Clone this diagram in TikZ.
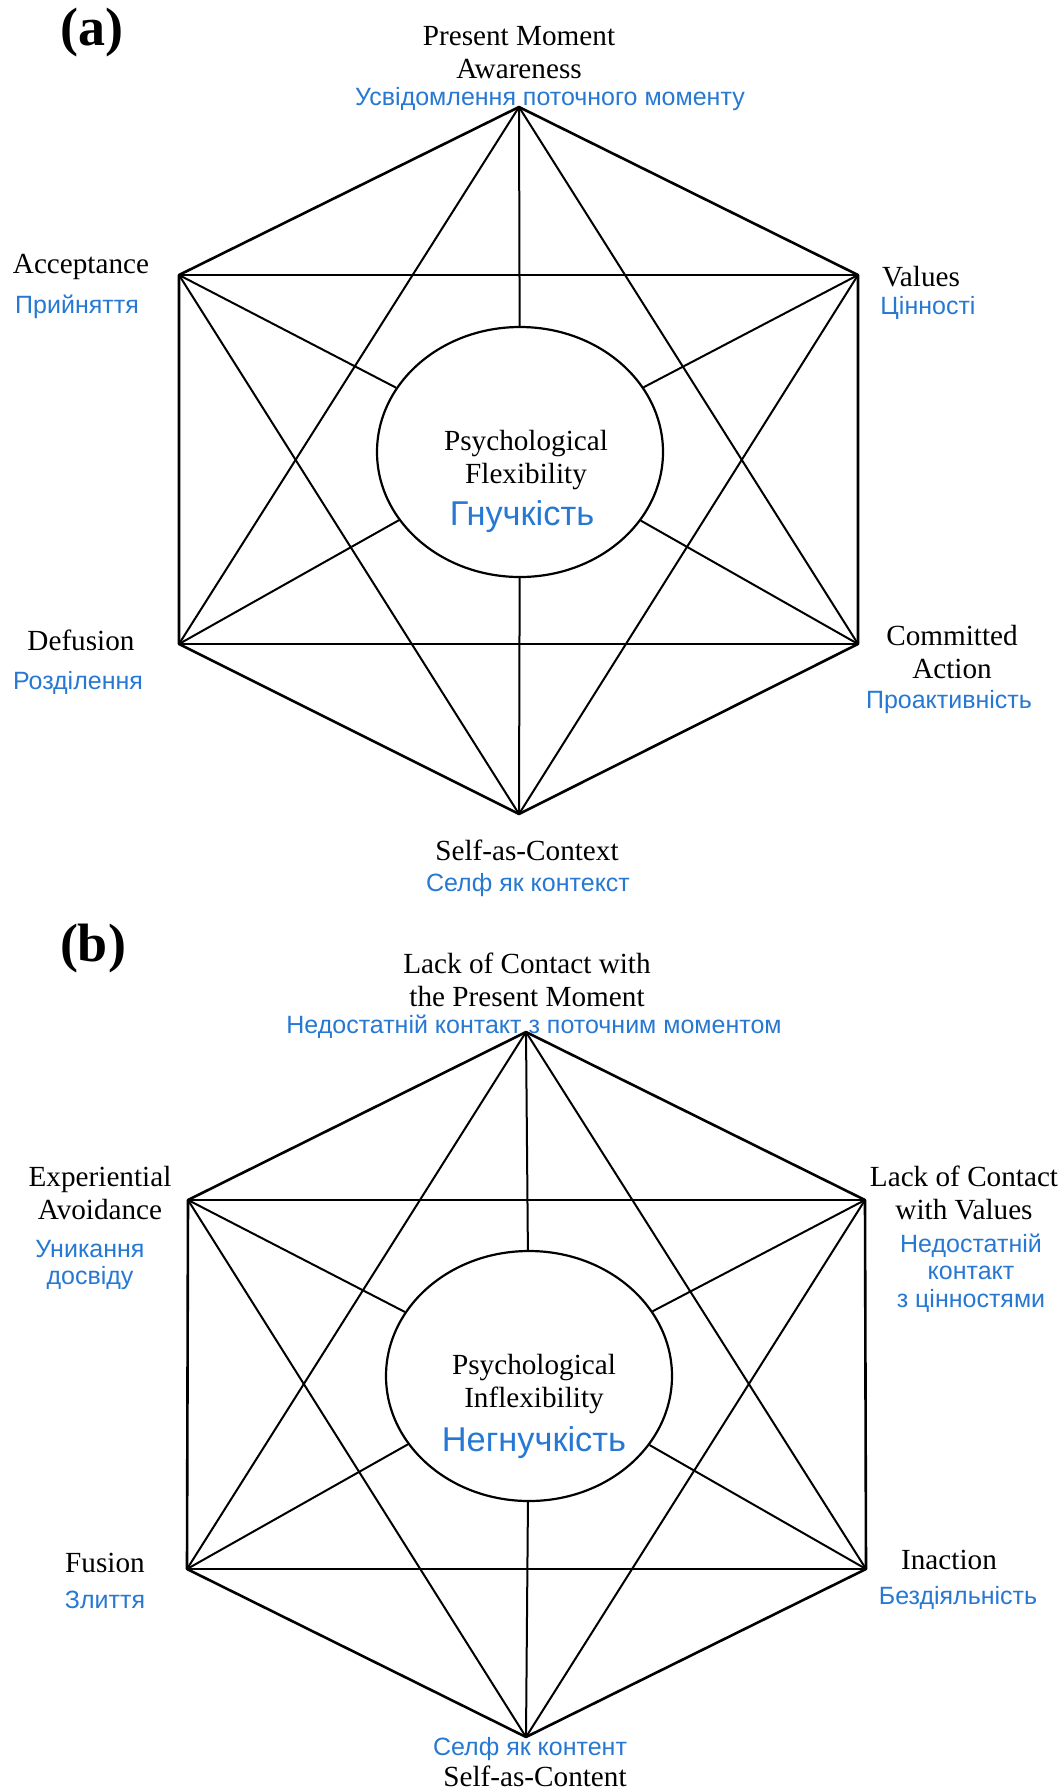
\documentclass[tikz,border=0pt]{standalone}
\usepackage{fontspec}
\setmainfont{Liberation Serif}
\newfontfamily\uafont{Liberation Sans}
\usepackage{tikz}
\usetikzlibrary{positioning,shapes.geometric}
\definecolor{uablue}{RGB}{38,120,210}

\begin{document}
\begin{tikzpicture}[
			x=0.5pt, y=-0.5pt,
			en/.style={inner sep=0pt, align=center, font=\fontsize{14.6}{16.5}\selectfont},
			ua/.style={inner sep=0pt, align=center, text=uablue, font=\uafont\fontsize{12.5}{13.75}\selectfont},
			uabig/.style={ua, font=\uafont\fontsize{17.2}{19}\selectfont},
			panel/.style={inner sep=0pt, font=\bfseries\fontsize{27}{30}\selectfont},
			hub/.style={draw, ellipse, line width=1.1pt, minimum width=143pt, minimum height=125pt, inner sep=0pt},
			rim/.style={line width=1.3pt, line join=round},
			link/.style={line width=1pt}
			]
			\useasboundingbox (0,0) rectangle (1061,1789);
			
			% (a) flexibility hexaflex
			\coordinate (pma) at (519,107);
			\coordinate (acc) at (179,275);
			\coordinate (val) at (858,275);
			\coordinate (def) at (179,644);
			\coordinate (cact) at (858,644);
			\coordinate (sac) at (519,814);
			\node[hub] (flex) at (520,452) {};
			
			\draw[rim] (pma) -- (acc) -- (def) -- (sac) -- (cact) -- (val) -- cycle;
			\draw[rim] (acc) -- (val);
			\draw[rim] (def) -- (cact);
			\draw[link] (pma) -- (def);
			\draw[link] (pma) -- (cact);
			\draw[link] (sac) -- (acc);
			\draw[link] (sac) -- (val);
			\draw[link] (pma) -- (flex);
			\draw[link] (sac) -- (flex);
			\draw[link] (acc) -- (flex);
			\draw[link] (val) -- (flex);
			\draw[link] (def) -- (flex);
			\draw[link] (cact) -- (flex);
			
			\node[panel] (tagA) at (92,33) {(a)};
			\node[en] (pmalbl) at (519,53) {Present Moment\\Awareness};
			\node[ua] (pmaua) at (550,99) {Усвідомлення поточного моменту};
			\node[en] (acclbl) at (81,267) {Acceptance};
			\node[ua] (accua) at (77,307) {Прийняття};
			\node[en] (vallbl) at (921,277) {Values};
			\node[ua] (valua) at (928,308) {Цінності};
			\node[en] (flexlbl) at (526,460) {Psychological\\Flexibility};
			\node[uabig] (flexua) at (522,517) {Гнучкість};
			\node[en] (deflbl) at (81,640) {Defusion};
			\node[ua] (defua) at (78,683) {Розділення};
			\node[en] (cactlbl) at (952,652) {Committed\\Action};
			\node[ua] (cactua) at (949,702) {Проактивність};
			\node[en] (saclbl) at (527,850) {Self-as-Context};
			\node[ua] (sacua) at (528,885) {Селф як контекст};
			
			% (b) inflexibility hexaflex
			\coordinate (lcp) at (526,1032);
			\coordinate (eav) at (188,1200);
			\coordinate (lcv) at (865,1200);
			\coordinate (fus) at (187,1569);
			\coordinate (inact) at (866,1569);
			\coordinate (sacn) at (526,1737);
			\node[hub] (infl) at (529,1376) {};
			
			\draw[rim] (lcp) -- (eav) -- (fus) -- (sacn) -- (inact) -- (lcv) -- cycle;
			\draw[rim] (eav) -- (lcv);
			\draw[rim] (fus) -- (inact);
			\draw[link] (lcp) -- (fus);
			\draw[link] (lcp) -- (inact);
			\draw[link] (sacn) -- (eav);
			\draw[link] (sacn) -- (lcv);
			\draw[link] (lcp) -- (infl);
			\draw[link] (sacn) -- (infl);
			\draw[link] (eav) -- (infl);
			\draw[link] (lcv) -- (infl);
			\draw[link] (fus) -- (infl);
			\draw[link] (inact) -- (infl);
			
			\node[panel] (tagB) at (93,948) {(b)};
			\node[en] (lcplbl) at (527,980) {Lack of Contact with\\the Present Moment};
			\node[ua] (lcpua) at (534,1027) {Недостатній контакт з поточним моментом};
			\node[en] (eavlbl) at (100,1193) {Experiential\\Avoidance};
			\node[ua] (eavua) at (90,1265) {Уникання\\досвіду};
			\node[en] (lcvlbl) at (964,1193) {Lack of Contact\\with Values};
			\node[ua] (lcvua) at (971,1273) {Недостатній\\контакт\\з цінностями};
			\node[en] (infllbl) at (534,1384) {Psychological\\Inflexibility};
			\node[uabig] (influa) at (534,1443) {Негнучкість};
			\node[en] (fuslbl) at (105,1563) {Fusion};
			\node[ua] (fusua) at (105,1600) {Злиття};
			\node[en] (inactlbl) at (949,1560) {Inaction};
			\node[ua] (inactua) at (958,1598) {Бездіяльність};
			\node[ua] (sacnua) at (530,1749) {Селф як контент};
			\node[en] (sacnlbl) at (535,1776) {Self-as-Content};
			
		\end{tikzpicture}
\end{document}
